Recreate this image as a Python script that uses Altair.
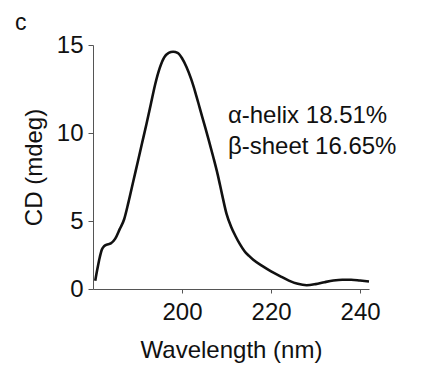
import altair as alt
import pandas as pd

wavelength = [180.5, 181, 181.5, 182, 182.5, 183, 184, 185, 186, 187, 188, 189, 190, 191,
              192, 193, 194, 195, 196, 197, 198, 199, 200, 201, 202, 203, 204, 205, 206,
              207, 208, 209, 210, 211, 212, 213, 214, 215, 216, 218, 220, 222, 224, 226,
              228, 230, 232, 234, 236, 238, 240, 242]
cd = [0.6, 1.5, 2.3, 2.9, 3.15, 3.25, 3.35, 3.7, 4.4, 5.1, 6.1, 7.2, 8.3, 9.4,
      10.5, 11.65, 12.8, 13.7, 14.3, 14.55, 14.62, 14.55, 14.25, 13.75, 13.1, 12.3, 11.4, 10.5, 9.6,
      8.65, 7.65, 6.5, 5.4, 4.6, 3.9, 3.3, 2.8, 2.45, 2.15, 1.7, 1.3, 0.95, 0.62, 0.38,
      0.28, 0.36, 0.5, 0.62, 0.68, 0.68, 0.62, 0.55]

ann_text = ["\u03b1-helix 18.51%", "\u03b2-sheet 16.65%"]
ann_x = [210.3, 210.3]
ann_y = [10.57, 8.8]

x_ticks = [200, 220, 240]
y_ticks = [0, 5, 10, 15]

FONT = "Liberation Sans"
W, H = 276, 244

df = pd.DataFrame({"w": wavelength, "cd": cd})
ann = pd.DataFrame({"t": ann_text, "x": ann_x, "y": ann_y})

xscale = alt.Scale(domain=[180, 242], nice=False, zero=False)
yscale = alt.Scale(domain=[0, 5, 15], range=[H, H - 68, 0], nice=False, zero=False)

line = alt.Chart(df).mark_line(color="#111111", strokeWidth=2.6, interpolate="monotone").encode(
    x=alt.X("w:Q", scale=xscale,
            axis=alt.Axis(title="Wavelength (nm)", values=x_ticks, grid=False,
                          domainColor="#555555", tickColor="#555555", tickSize=4,
                          labelFontSize=24, labelFont=FONT, labelColor="#111111",
                          labelPadding=7, titleFontSize=24, titleFont=FONT,
                          titleFontWeight="normal", titleColor="#111111", titlePadding=14)),
    y=alt.Y("cd:Q", scale=yscale,
            axis=alt.Axis(title="CD (mdeg)", values=y_ticks, grid=False,
                          domainColor="#555555", tickColor="#555555", tickSize=5,
                          labelFontSize=24, labelFont=FONT, labelColor="#111111",
                          labelPadding=5, titleFontSize=24, titleFont=FONT,
                          titleFontWeight="normal", titleColor="#111111", titlePadding=10)),
)

text = alt.Chart(ann).mark_text(align="left", baseline="alphabetic", fontSize=24,
                                font=FONT, color="#111111").encode(
    x=alt.X("x:Q", scale=xscale),
    y=alt.Y("y:Q", scale=yscale),
    text="t:N",
)

panel_label = alt.Chart(pd.DataFrame({"t": ["c"]})).mark_text(
    align="left", baseline="alphabetic", fontSize=23, font=FONT, color="#111111"
).encode(x=alt.value(-78), y=alt.value(-15), text="t:N")

chart = alt.layer(line, text, panel_label).properties(
    width=W, height=H,
    autosize=alt.AutoSizeParams(type="none"),
    padding={"left": 85, "top": 37, "right": 40, "bottom": 80},
).configure_view(stroke=None)

chart.save("out.html", embed_options={"renderer": "svg", "actions": False})
